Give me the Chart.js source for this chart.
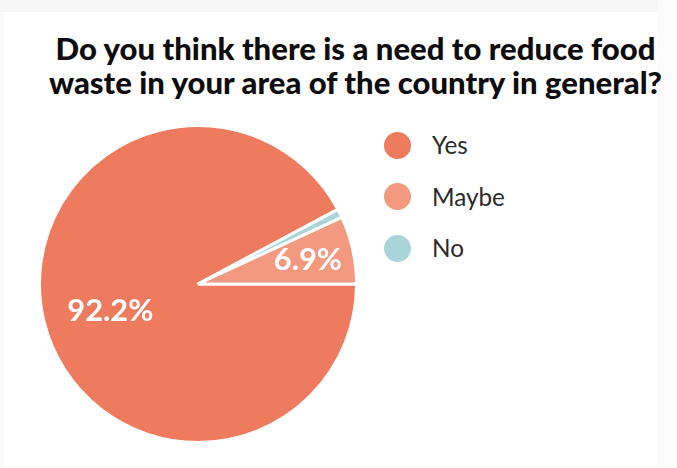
<!DOCTYPE html>
<html>
<head>
<meta charset="utf-8">
<script src="https://cdn.jsdelivr.net/npm/chart.js@4.4.0/dist/chart.umd.min.js"></script>
<style>
  html, body { margin: 0; padding: 0; }
  body { width: 677px; height: 468px; background: #fbfbfb; position: relative; overflow: hidden; }
  #topband { position: absolute; left: 0; top: 0; width: 657px; height: 12px; background: #f6f6f6; }
  #panel { position: absolute; left: 4px; top: 12px; width: 653px; height: 456px; background: #ffffff; }
  .tline { position: absolute; left: 0; width: 711px; text-align: center; white-space: nowrap;
           font-family: Lato, "Open Sans", sans-serif; font-weight: 900; color: #0d0d0d; }
  #pie { position: absolute; left: 38px; top: 124px; }
  .lg-dot { position: absolute; border-radius: 50%; }
  .lg-text { position: absolute; white-space: nowrap; font-family: Lato, "Open Sans", sans-serif;
             font-weight: 400; color: #2a2a2a; }
</style>
</head>
<body>
<div id="topband"></div>
<div id="panel"></div>
<div id="titleBox"></div>
<canvas id="pie" width="320" height="320"></canvas>
<div id="legendBox"></div>
<script>
// ---- data ----
const titleLines = [
  'Do you think there is a need to reduce food',
  'waste in your area of the country in general?'
];
const categories = ['Yes', 'Maybe', 'No'];
const shares = [92.2, 6.9, 0.9];
const sliceLabels = ['92.2%', '6.9%', ''];

// ---- styles ----
const colors = ['#EE7B5D', '#F2997F', '#A9D5D9'];
const labelRadius = [0.57, 0.71, 0];
const labelNudgeY = [5, 0, 0];
const drawOrder = [0, 2, 1]; // clockwise drawing order from 3 o'clock

const mctx = document.createElement('canvas').getContext('2d');
function fitSize(text, weight, family, targetW) {
  mctx.font = weight + ' 100px ' + family;
  return 100 * targetW / mctx.measureText(text).width;
}

// title
const titleBox = document.getElementById('titleBox');
const tSize = fitSize(titleLines[1], 900, 'Lato', 616);
titleLines.forEach((t, k) => {
  const d = document.createElement('div');
  d.className = 'tline';
  d.textContent = t;
  d.style.fontSize = tSize + 'px';
  d.style.lineHeight = '34px';
  d.style.top = (31 + k * 34) + 'px';
  titleBox.appendChild(d);
});

// legend
const legendBox = document.getElementById('legendBox');
const lgSize = fitSize('Maybe', 400, 'Lato', 73);
categories.forEach((c, i) => {
  const cy = 145 + i * 51.5;
  const dot = document.createElement('div');
  dot.className = 'lg-dot';
  dot.style.left = (397 - 13.5) + 'px';
  dot.style.top = (cy - 13.5) + 'px';
  dot.style.width = '27px';
  dot.style.height = '27px';
  dot.style.background = colors[i];
  legendBox.appendChild(dot);
  const tx = document.createElement('div');
  tx.className = 'lg-text';
  tx.textContent = c;
  tx.style.left = '432px';
  tx.style.fontSize = lgSize + 'px';
  tx.style.lineHeight = '30px';
  tx.style.top = (cy - 15) + 'px';
  legendBox.appendChild(tx);
});

const pctSize = fitSize('92.2%', 700, 'Lato', 86);

const sliceLabelPlugin = {
  id: 'sliceLabels',
  afterDatasetsDraw(chart) {
    const ctx = chart.ctx;
    const meta = chart.getDatasetMeta(0);
    meta.data.forEach((arc, j) => {
      const i = drawOrder[j];
      const text = sliceLabels[i];
      if (!text) return;
      const p = arc.getProps(['x', 'y', 'startAngle', 'endAngle', 'outerRadius'], true);
      const mid = (p.startAngle + p.endAngle) / 2;
      const r = p.outerRadius * labelRadius[i];
      ctx.save();
      ctx.fillStyle = '#ffffff';
      ctx.font = '700 ' + pctSize + 'px Lato, sans-serif';
      ctx.textAlign = 'center';
      ctx.textBaseline = 'middle';
      ctx.fillText(text, p.x + Math.cos(mid) * r, p.y + Math.sin(mid) * r + labelNudgeY[i]);
      ctx.restore();
    });
  }
};

new Chart(document.getElementById('pie'), {
  type: 'pie',
  data: {
    labels: drawOrder.map(i => categories[i]),
    datasets: [{
      data: drawOrder.map(i => shares[i]),
      backgroundColor: drawOrder.map(i => colors[i]),
      borderColor: '#ffffff',
      borderWidth: 3
    }]
  },
  options: {
    responsive: false,
    animation: false,
    rotation: 90,
    layout: { padding: 0 },
    plugins: { legend: { display: false }, tooltip: { enabled: false }, title: { display: false } }
  },
  plugins: [sliceLabelPlugin]
});
</script>
</body>
</html>
